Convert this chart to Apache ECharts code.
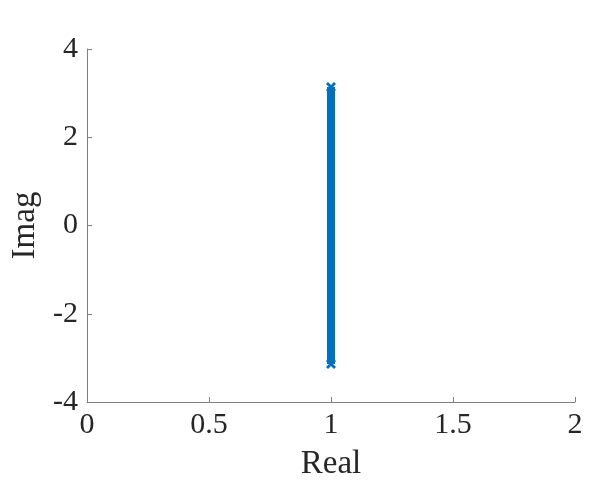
<!DOCTYPE html>
<html>
<head>
<meta charset="utf-8">
<script src="https://cdn.jsdelivr.net/npm/echarts@6/dist/echarts.min.js"></script>
<style>html,body{margin:0;padding:0;background:#fff}#c{width:598px;height:502px}</style>
</head>
<body>
<div id="c"></div>
<script>
var realPart = [1, 1];
var imagPart = [-3.1416, 3.1416];
var xTicks = [0, 0.5, 1, 1.5, 2];
var yTicks = [-4, -2, 0, 2, 4];

var chart = echarts.init(document.getElementById('c'));
var pts = realPart.map(function (r, i) { return [r, imagPart[i]]; });
var font = 'Liberation Serif';
var xShape = 'path://M0,2 L2,0 L5,3 L8,0 L10,2 L7,5 L10,8 L8,10 L5,7 L2,10 L0,8 L3,5 Z';
chart.setOption({
  animation: false,
  grid: {left: 87, right: 23, top: 49, bottom: 100},
  xAxis: {
    type: 'value', min: xTicks[0], max: xTicks[xTicks.length - 1], interval: 0.5,
    name: 'Real', nameLocation: 'middle', nameGap: 46,
    nameTextStyle: {fontFamily: font, fontSize: 33, color: '#262626'},
    axisLine: {show: true, onZero: false, lineStyle: {color: '#808080', width: 1}},
    axisTick: {show: true, inside: true, length: 5, lineStyle: {color: '#808080'}},
    axisLabel: {fontFamily: font, fontSize: 30, color: '#262626', margin: 8},
    splitLine: {show: false}
  },
  yAxis: {
    type: 'value', min: yTicks[0], max: yTicks[yTicks.length - 1], interval: 2,
    name: 'Imag', nameLocation: 'middle', nameGap: 45, nameRotate: 90,
    nameTextStyle: {fontFamily: font, fontSize: 33, color: '#262626'},
    axisLine: {show: true, onZero: false, lineStyle: {color: '#808080', width: 1}},
    axisTick: {show: true, inside: true, length: 5, lineStyle: {color: '#808080'}},
    axisLabel: {fontFamily: font, fontSize: 30, color: '#262626', margin: 9},
    splitLine: {show: false}
  },
  series: [{
    type: 'line', data: pts,
    lineStyle: {color: '#0072BD', width: 8},
    itemStyle: {color: '#0072BD'},
    symbol: xShape, symbolSize: 10, showSymbol: true
  }]
});
</script>
</body>
</html>
